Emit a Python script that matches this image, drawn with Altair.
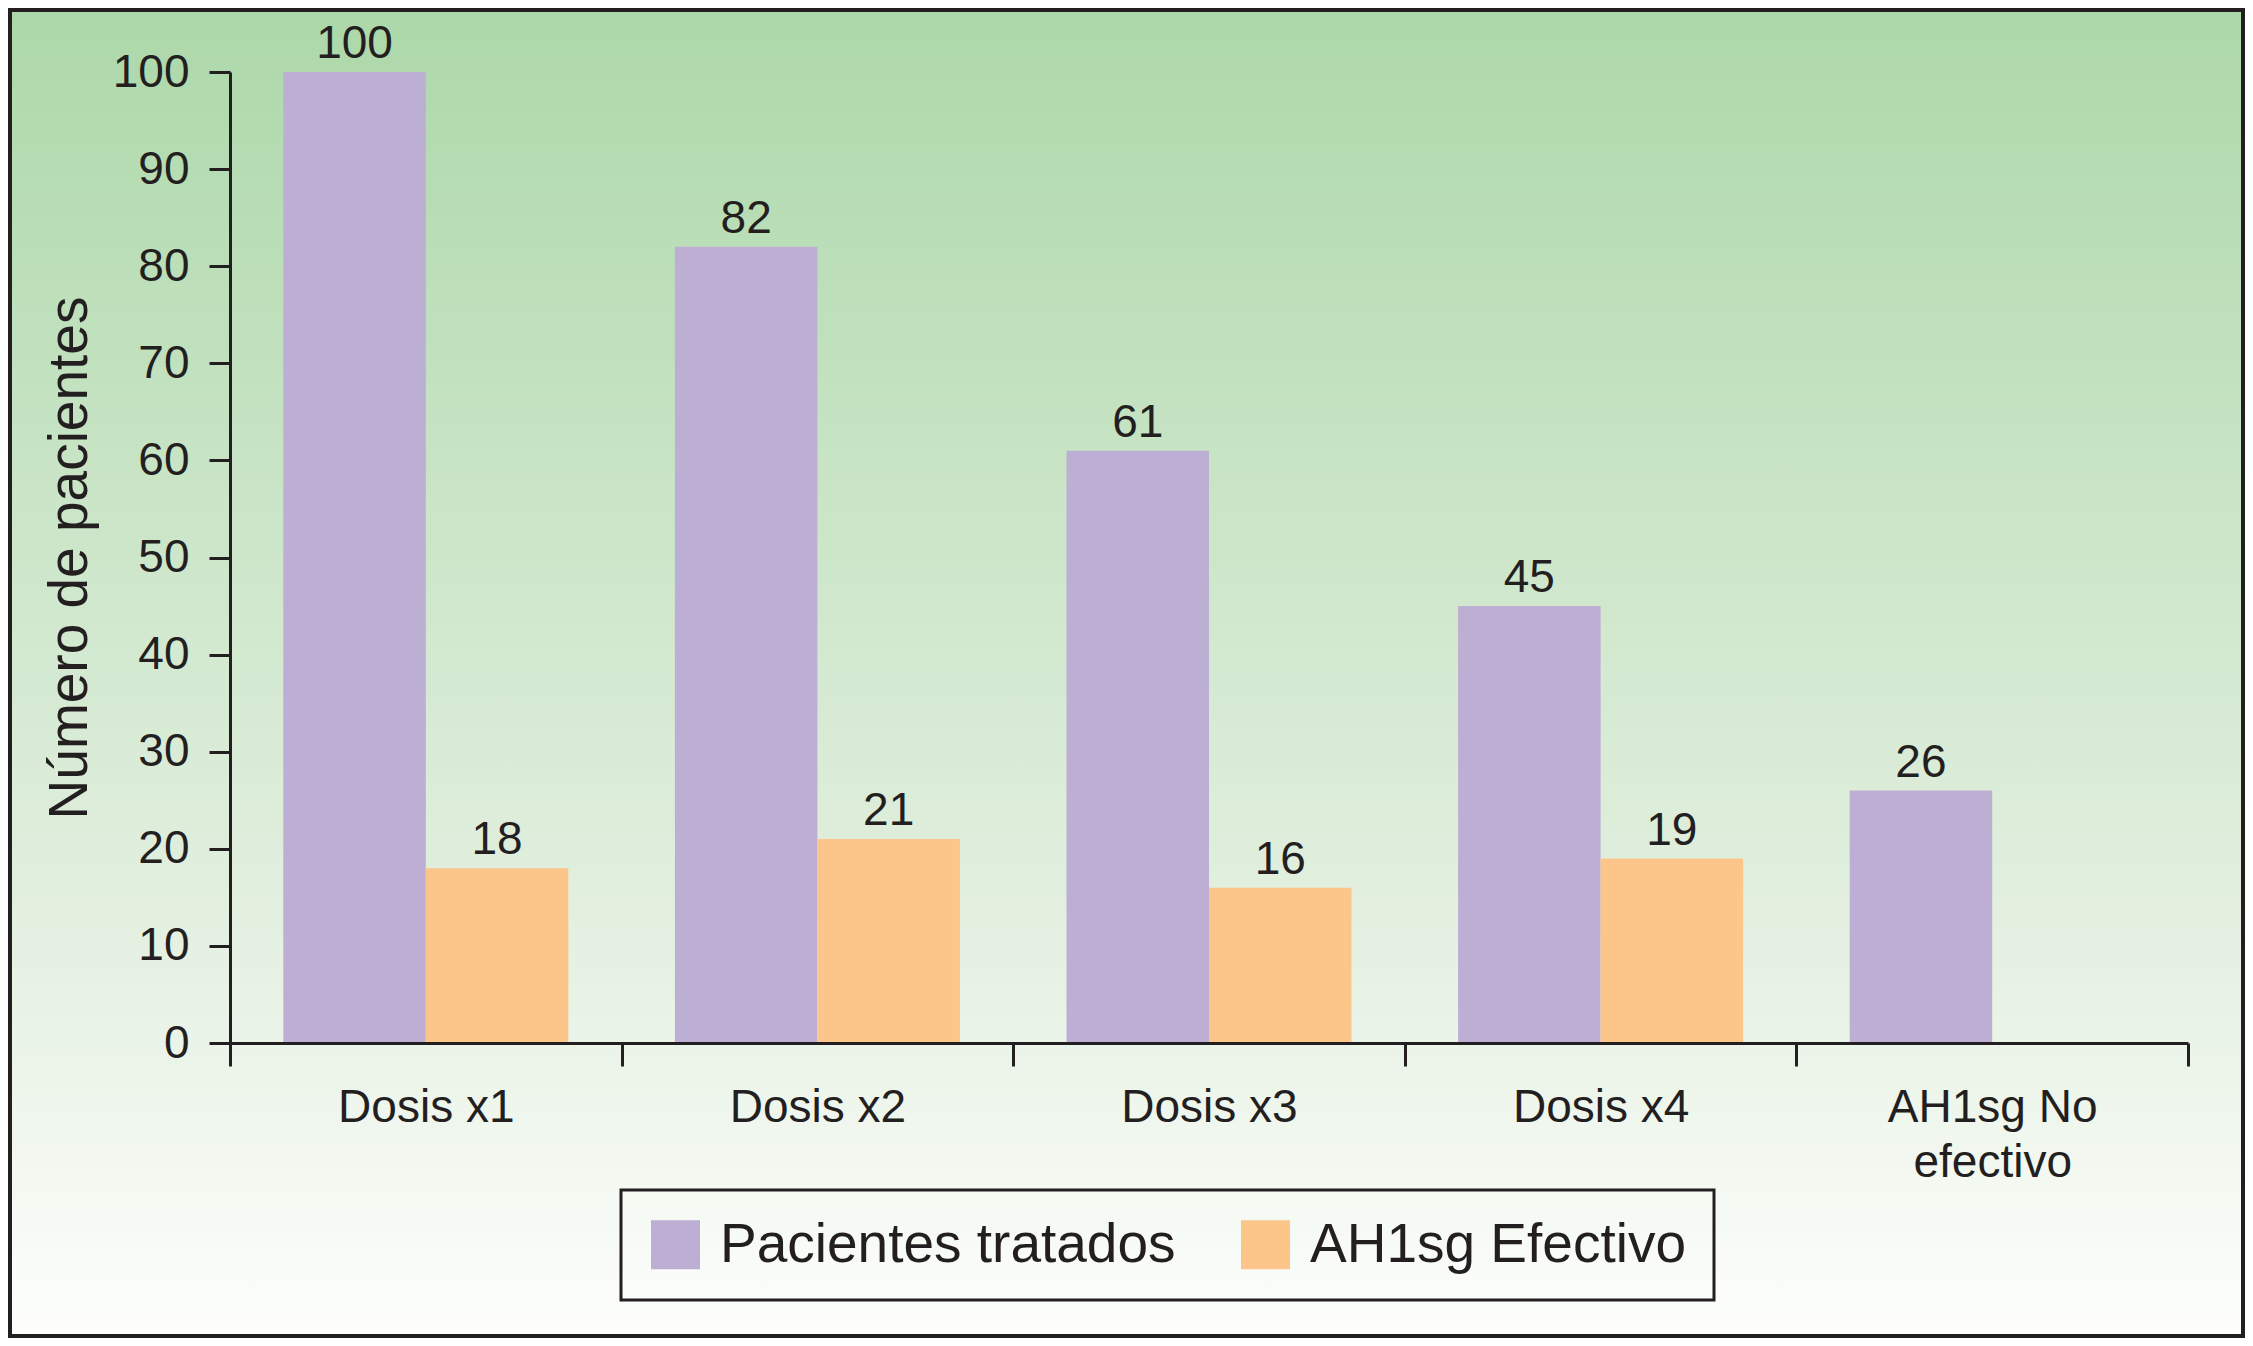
import altair as alt
import pandas as pd

# ---- data ----
categories = ["Dosis x1", "Dosis x2", "Dosis x3", "Dosis x4", "AH1sg No efectivo"]
tratados = [100, 82, 61, 45, 26]
efectivo = [18, 21, 16, 19, None]
series = ["Pacientes tratados", "AH1sg Efectivo"]
colors = ["#bdaed4", "#fcc589"]
y_ticks = [0, 10, 20, 30, 40, 50, 60, 70, 80, 90, 100]

rows = []
for c, t, e in zip(categories, tratados, efectivo):
    rows.append({"cat": c, "serie": series[0], "n": t})
    if e is not None:
        rows.append({"cat": c, "serie": series[1], "n": e})
df = pd.DataFrame(rows)

INK = "#231f20"
FONT = "Liberation Sans"
W, H = 1958, 971
PL, PT, PR, PB = 222, 64, 57, 295

x = alt.X(
    "cat:N", sort=categories,
    scale=alt.Scale(paddingInner=0, paddingOuter=0),
    axis=alt.Axis(
        title=None, tickBand="extent", labelAngle=0, labelLimit=1000,
        labelExpr="datum.value == 'AH1sg No efectivo' ? ['AH1sg No', 'efectivo'] : datum.label",
        labelFontSize=46, labelPadding=19, labelLineHeight=55, labelColor=INK, labelFont=FONT,
        tickSize=23, tickWidth=3, tickColor=INK, domainWidth=3, domainColor=INK, zindex=1,
    ),
)
xo = alt.XOffset("serie:N", sort=series,
                 scale=alt.Scale(domain=series, paddingInner=0, paddingOuter=0.374))
y = alt.Y(
    "n:Q", scale=alt.Scale(domain=[0, 100], nice=False),
    axis=alt.Axis(
        title="Número de pacientes", values=y_ticks, grid=False,
        titleFontSize=55, titleFontWeight="normal", titleColor=INK, titleFont=FONT, titlePadding=14,
        labelFontSize=46, labelPadding=20, labelColor=INK, labelFont=FONT,
        tickSize=21, tickWidth=3, tickColor=INK, domainWidth=3, domainColor=INK, zindex=1,
    ),
)
color = alt.Color(
    "serie:N", sort=series, scale=alt.Scale(domain=series, range=colors),
    legend=alt.Legend(
        title=None, orient="none", legendX=391, legendY=1118, direction="horizontal",
        symbolType="square", symbolSize=2401, symbolStrokeWidth=0, symbolOpacity=1,
        labelFontSize=55, labelOffset=17, labelColor=INK, labelFont=FONT, labelLimit=1000,
        columnPadding=62, padding=27, strokeColor=INK, zindex=1,
    ),
)

grad = alt.Gradient(
    gradient="linear",
    stops=[alt.GradientStop(color="#acd8a9", offset=0),
           alt.GradientStop(color="#e6f1e3", offset=0.72),
           alt.GradientStop(color="#fdfefc", offset=1)],
    x1=0, x2=0, y1=0, y2=1,
)
bg = alt.Chart(alt.Data(values=[{"a": 1}])).mark_rect(
    fill=grad, stroke=INK, strokeWidth=4
).encode(
    x=alt.value(-PL + 2), x2=alt.value(W + PR - 2),
    y=alt.value(-PT + 2), y2=alt.value(H + PB - 2),
)

bars = alt.Chart(df).mark_bar(strokeWidth=0).encode(x=x, xOffset=xo, y=y, color=color)
labels = alt.Chart(df).mark_text(
    baseline="bottom", dy=-4, fontSize=46, color=INK, font=FONT
).encode(x=x, xOffset=xo, y=y, text="n:Q")

chart = alt.layer(bg, bars, labels).properties(
    width=W, height=H,
    padding={"left": PL, "top": PT, "right": PR, "bottom": PB},
    autosize=alt.AutoSizeParams(type="none"),
).configure_view(strokeWidth=0).configure(font=FONT).configure_legend(strokeWidth=3)

chart.save("out.html", embed_options={"renderer": "svg", "actions": False})
